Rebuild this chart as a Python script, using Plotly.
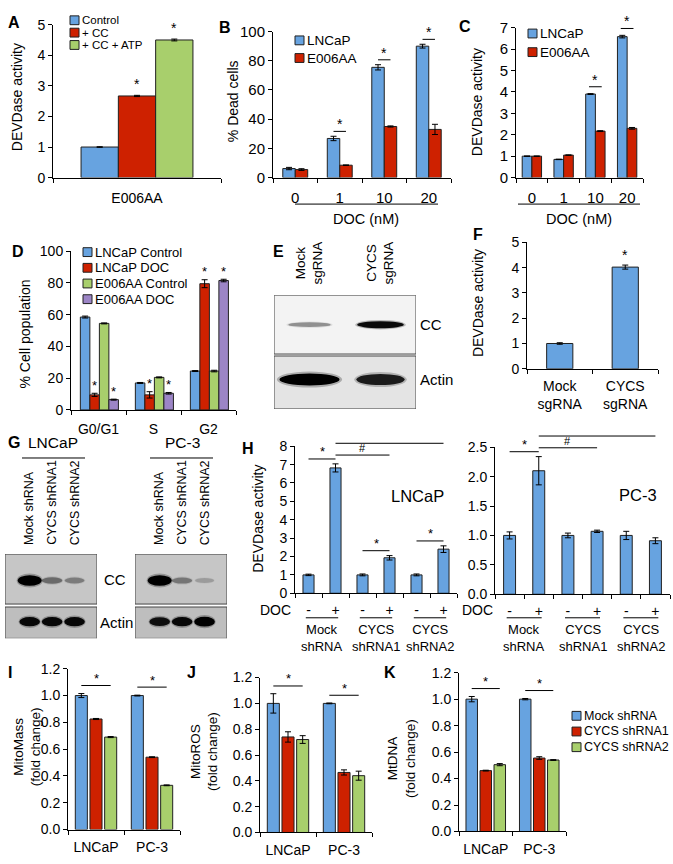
import plotly.graph_objects as go

# ---------------- data ----------------
a_category = ["E006AA"]
a_series = ["Control", "+ CC", "+ CC + ATP"]
a_values = [1.0, 2.67, 4.50]
a_errors = [0.01, 0.02, 0.03]
a_significant = [False, True, True]

dose_labels = ["0", "1", "10", "20"]
bc_series = ["LNCaP", "E006AA"]
b_lncap = [6.2, 26.8, 75.5, 90.0]
b_lncap_err = [0.8, 1.5, 1.8, 1.3]
b_e006aa = [5.5, 8.5, 35.0, 33.0]
b_e006aa_err = [0.6, 0.2, 0.4, 3.5]
b_significant = [False, True, True, True]

c_lncap = [1.0, 0.85, 3.90, 6.58]
c_lncap_err = [0.01, 0.01, 0.02, 0.06]
c_e006aa = [1.0, 1.05, 2.17, 2.30]
c_e006aa_err = [0.01, 0.01, 0.02, 0.04]
c_significant = [False, False, True, True]

d_phases = ["G0/G1", "S", "G2"]
d_series = ["LNCaP Control", "LNCaP DOC", "E006AA Control", "E006AA DOC"]
d_lncap_control = [58.5, 17.0, 24.5]
d_lncap_doc = [9.5, 9.5, 79.5]
d_e006aa_control = [54.5, 20.5, 24.5]
d_e006aa_doc = [6.5, 10.5, 81.5]
d_lncap_control_err = [0.6, 0.3, 0.3]
d_lncap_doc_err = [1.0, 2.0, 2.5]
d_e006aa_control_err = [0.3, 0.3, 0.5]
d_e006aa_doc_err = [0.3, 0.5, 0.8]
d_significant = [False, True, False, True]

e_lanes = ["Mock<br>sgRNA", "CYCS<br>sgRNA"]
e_cc_intensity = [0.35, 0.95]
e_actin_intensity = [1.0, 0.85]

f_categories = ["Mock<br>sgRNA", "CYCS<br>sgRNA"]
f_values = [1.0, 4.02]
f_errors = [0.03, 0.08]
f_significant = [False, True]

g_lanes = ["Mock shRNA", "CYCS shRNA1", "CYCS shRNA2"]
g_lncap_cc = [1.0, 0.40, 0.32]
g_lncap_actin = [0.95, 0.95, 0.95]
g_pc3_cc = [1.0, 0.35, 0.18]
g_pc3_actin = [0.9, 0.95, 1.0]

h_doc = ["-", "+", "-", "+", "-", "+"]
h_groups = ["Mock<br>shRNA", "CYCS<br>shRNA1", "CYCS<br>shRNA2"]
h_lncap = [1.0, 6.82, 1.0, 1.93, 1.0, 2.40]
h_lncap_err = [0.04, 0.22, 0.05, 0.12, 0.05, 0.18]
h_pc3 = [1.0, 2.10, 1.0, 1.07, 1.0, 0.91]
h_pc3_err = [0.06, 0.24, 0.04, 0.02, 0.07, 0.05]
h_lncap_star_pairs = [(0, 1), (2, 3), (4, 5)]
h_pc3_star_pairs = [(0, 1)]
h_hash_pairs = [(1, 3), (1, 5)]

cell_lines = ["LNCaP", "PC-3"]
shrna_series = ["Mock shRNA", "CYCS shRNA1", "CYCS shRNA2"]
i_mock = [1.0, 1.0]
i_sh1 = [0.825, 0.54]
i_sh2 = [0.69, 0.33]
i_mock_err = [0.015, 0.003]
i_sh1_err = [0.004, 0.003]
i_sh2_err = [0.004, 0.003]
j_mock = [1.0, 1.0]
j_sh1 = [0.74, 0.465]
j_sh2 = [0.72, 0.44]
j_mock_err = [0.075, 0.003]
j_sh1_err = [0.04, 0.02]
j_sh2_err = [0.03, 0.035]
k_mock = [1.0, 1.0]
k_sh1 = [0.46, 0.555]
k_sh2 = [0.505, 0.54]
k_mock_err = [0.02, 0.005]
k_sh1_err = [0.003, 0.01]
k_sh2_err = [0.008, 0.003]

# ---------------- style ----------------
W, H = 673, 864
FONT = "Arial, Liberation Sans, sans-serif"
BLACK = "#000000"
EDGE = "#202020"
BLUE = "#67A3E0"
RED = "#CE2100"
GREEN = "#A8CF6C"
PURPLE = "#9C85C6"


def fx(x):
    return x / W


def fy(y):
    return 1 - y / H


axes = {}
axinfo = {}
shapes = []
annotations = []
traces = []


def keys(n):
    s = "" if n == 1 else str(n)
    return "xaxis" + s, "yaxis" + s, "x" + s, "y" + s


def X(xr, v):
    x0, x1, lo, hi = axinfo[xr]
    return x0 + (v - lo) / (hi - lo) * (x1 - x0)


def Y(yr, v):
    ytop, ybot, lo, hi = axinfo[yr]
    return ybot - (v - lo) / (hi - lo) * (ybot - ytop)


def bar_axes(n, x0, x1, ytop, ybot, labels, ymax, dtick, fmt=None, tickfs=14, standoff=5):
    xk, yk, xr, yr = keys(n)
    ncat = len(labels)
    axinfo[xr] = (x0, x1, -0.5, ncat - 0.5)
    axinfo[yr] = (ytop, ybot, 0, ymax)
    axes[xk] = dict(domain=[fx(x0), fx(x1)], range=[-0.5, ncat - 0.5], anchor=yr,
                    showline=True, linecolor=BLACK, linewidth=1, showgrid=False, zeroline=False,
                    tickmode="array", tickvals=list(range(ncat)), ticktext=labels, ticks="",
                    tickfont=dict(family=FONT, size=tickfs, color=BLACK), ticklabelstandoff=standoff,
                    minor=dict(tickmode="array", tickvals=[i - 0.5 for i in range(ncat + 1)],
                               ticks="outside", ticklen=4, tickcolor=BLACK, tickwidth=1, showgrid=False),
                    fixedrange=True)
    ya = dict(domain=[fy(ybot), fy(ytop)], range=[0, ymax], anchor=xr,
              showline=True, linecolor=BLACK, linewidth=1, showgrid=False, zeroline=False,
              ticks="outside", ticklen=4, tickcolor=BLACK, tickmode="linear", tick0=0, dtick=dtick,
              tickfont=dict(family=FONT, size=tickfs, color=BLACK), fixedrange=True)
    if fmt:
        ya["tickformat"] = fmt
    axes[yk] = ya
    return xr, yr, ymax / (ybot - ytop)  # data units per pixel


def blot_axes(n, x0, x1, ytop, ybot, xrange):
    xk, yk, xr, yr = keys(n)
    axinfo[xr] = (x0, x1, xrange[0], xrange[1])
    axinfo[yr] = (ytop, ybot, 0, 1)
    axes[xk] = dict(domain=[fx(x0), fx(x1)], range=xrange, anchor=yr, visible=False, fixedrange=True)
    axes[yk] = dict(domain=[fy(ybot), fy(ytop)], range=[0, 1], anchor=xr, visible=False, fixedrange=True)
    return xr, yr


def add_bar(xr, yr, ys, errs, color, width, offset, name):
    traces.append(go.Bar(x=list(range(len(ys))), y=ys, xaxis=xr, yaxis=yr, name=name,
                         width=width, offset=offset,
                         marker=dict(color=color, line=dict(color=EDGE, width=1)),
                         error_y=dict(type="data", array=errs, visible=True, color=BLACK,
                                      thickness=1, width=3),
                         showlegend=False, hoverinfo="skip"))


def text(x, y, s, fs=14, angle=0, xanchor="center", yanchor="middle", bold=False, xref="paper", yref="paper"):
    annotations.append(dict(xref=xref, yref=yref,
                            x=fx(x) if xref == "paper" else x,
                            y=fy(y) if yref == "paper" else y,
                            text=("<b>%s</b>" % s) if bold else s, textangle=angle,
                            showarrow=False, xanchor=xanchor, yanchor=yanchor, borderpad=0,
                            font=dict(family=FONT, size=fs, color=BLACK)))


def hline_px(xa, xb, y):
    shapes.append(dict(type="line", xref="paper", yref="paper", x0=fx(xa), x1=fx(xb),
                       y0=fy(y), y1=fy(y), line=dict(color=BLACK, width=1)))


def sig(xr, yr, xa, xb, y, symbol="*", shift=7, fs=13):
    if xa != xb:
        hline_px(X(xr, xa), X(xr, xb), Y(yr, y))
    annotations.append(dict(xref=xr, yref=yr, x=(xa + xb) / 2, y=y, text=symbol, showarrow=False,
                            yanchor="middle", yshift=shift,
                            font=dict(family=FONT, size=fs, color=BLACK)))


def legend(x, y0, step, names, colors, fs=13):
    for k, (name, col) in enumerate(zip(names, colors)):
        yy = y0 + k * step
        shapes.append(dict(type="rect", xref="paper", yref="paper", x0=fx(x), x1=fx(x + 9),
                           y0=fy(yy + 4.5), y1=fy(yy - 4.5), fillcolor=col,
                           line=dict(color=EDGE, width=1)))
        text(x + 11, yy, name, fs=fs, xanchor="left")


def band(xr, yr, xc, yc, hw, hh, v):
    shapes.append(dict(type="circle", xref=xr, yref=yr, x0=xc - hw, x1=xc + hw,
                       y0=yc - hh * 1.35, y1=yc + hh * 1.35,
                       fillcolor="rgba(0,0,0,%.2f)" % (0.25 * v), line=dict(width=0)))
    shapes.append(dict(type="circle", xref=xr, yref=yr, x0=xc - hw * 0.92, x1=xc + hw * 0.92,
                       y0=yc - hh, y1=yc + hh,
                       fillcolor="rgba(0,0,0,%.2f)" % v, line=dict(width=0)))


def box(xr, yr, x0, x1, y0, y1, fill):
    shapes.append(dict(type="rect", xref=xr, yref=yr, x0=x0, x1=x1, y0=y0, y1=y1,
                       fillcolor=fill, line=dict(color="#444444", width=1), layer="below"))


# ---------------- A ----------------
xr, yr, upp = bar_axes(1, 53, 221, 16, 172, a_category, 5, 1, standoff=8)
a_colors = [BLUE, RED, GREEN]
aw = 0.222
for k in range(3):
    off = -0.333 + k * aw
    add_bar(xr, yr, [a_values[k]], [a_errors[k]], a_colors[k], aw, off, a_series[k])
    if a_significant[k]:
        sig(xr, yr, off + aw / 2, off + aw / 2, a_values[k] + a_errors[k], shift=11, fs=14)
legend(70, 11.5, 12.6, a_series, a_colors, fs=11.5)
text(17, 90, "DEVDase activity", 14, angle=-90)
text(14, 14, "A", 16, bold=True)

# ---------------- B ----------------
xr, yr, upp = bar_axes(2, 273, 451, 23, 172, dose_labels, 100, 20, tickfs=15, standoff=6)
bw = 0.28
add_bar(xr, yr, b_lncap, b_lncap_err, BLUE, bw, -bw, "LNCaP")
add_bar(xr, yr, b_e006aa, b_e006aa_err, RED, bw, 0, "E006AA")
for i, s in enumerate(b_significant):
    if s:
        top = max(b_lncap[i] + b_lncap_err[i], b_e006aa[i] + b_e006aa_err[i])
        sig(xr, yr, i - 0.14, i + 0.14, top + 5 * upp, shift=7, fs=14)
legend(295, 32, 18, bc_series, [BLUE, RED], fs=13.5)
hline_px(295, 438, 199)
text(366, 214, "DOC (nM)", 14.5)
text(233, 94, "% Dead cells", 14, angle=-90)
text(225, 19, "B", 16, bold=True)

# ---------------- C ----------------
xr, yr, upp = bar_axes(3, 516, 643, 19, 172, dose_labels, 7, 1, tickfs=15, standoff=6)
cw = 0.305
add_bar(xr, yr, c_lncap, c_lncap_err, BLUE, cw, -cw, "LNCaP")
add_bar(xr, yr, c_e006aa, c_e006aa_err, RED, cw, 0, "E006AA")
for i, s in enumerate(c_significant):
    if s:
        top = max(c_lncap[i] + c_lncap_err[i], c_e006aa[i] + c_e006aa_err[i])
        sig(xr, yr, i - 0.2, i + 0.2, top + 7 * upp, shift=7, fs=14)
legend(528, 25, 19, bc_series, [BLUE, RED], fs=13.5)
hline_px(518, 640, 199)
text(579, 214, "DOC (nM)", 14.5)
text(477, 95, "DEVDase activity", 14, angle=-90)
text(465, 18, "C", 16, bold=True)

# ---------------- D ----------------
xr, yr, upp = bar_axes(4, 71, 236, 247, 409, d_phases, 100, 20, tickfs=14, standoff=6)
d_vals = [d_lncap_control, d_lncap_doc, d_e006aa_control, d_e006aa_doc]
d_errs = [d_lncap_control_err, d_lncap_doc_err, d_e006aa_control_err, d_e006aa_doc_err]
d_colors = [BLUE, RED, GREEN, PURPLE]
dw = 0.173
for k in range(4):
    off = -0.33 + k * dw
    add_bar(xr, yr, d_vals[k], d_errs[k], d_colors[k], dw, off, d_series[k])
    if d_significant[k]:
        for i in range(3):
            sig(xr, yr, i + off + dw / 2, i + off + dw / 2, d_vals[k][i] + d_errs[k][i], shift=8, fs=13)
legend(83, 248, 16, d_series, d_colors, fs=13)
text(25, 332, "% Cell population", 14, angle=-90)
text(18, 247, "D", 16, bold=True)

# ---------------- E (blot) ----------------
xr, yr = blot_axes(5, 274, 416, 292, 408, [0, 2])
box(xr, yr, 0, 2, 0.483, 1, "#F3F3F3")
box(xr, yr, 0, 2, 0, 0.466, "#E4E4E4")
for i in range(2):
    v = e_cc_intensity[i]
    band(xr, yr, i + 0.5, 0.741, 0.36 * (0.85 + 0.15 * v), 0.032 * (0.45 + 0.55 * v), v)
    v = e_actin_intensity[i]
    band(xr, yr, i + 0.5, 0.259, 0.46 * (0.2 + 0.8 * v) if i == 0 else 0.37, 0.052 * (0.6 + 0.4 * v), v)
    text(i + 0.5, 282, e_lanes[i], 13.5, angle=-90, yanchor="bottom", xref=xr)
text(419, 322, "CC", 15, xanchor="left")
text(419, 378, "Actin", 15, xanchor="left")
text(278, 247, "E", 16, bold=True)

# ---------------- F ----------------
xr, yr, upp = bar_axes(6, 527, 658, 238, 367, f_categories, 5, 1, tickfs=14, standoff=4)
add_bar(xr, yr, f_values, f_errors, BLUE, 0.4, -0.2, "DEVDase")
for i, s in enumerate(f_significant):
    if s:
        sig(xr, yr, i, i, f_values[i] + f_errors[i], shift=10, fs=14)
text(478, 300, "DEVDase activity", 14, angle=-90)
text(478, 230, "F", 16, bold=True)

# ---------------- G (blots) ----------------
for n, cc, act, x0, x1 in [(7, g_lncap_cc, g_lncap_actin, 5, 97), (8, g_pc3_cc, g_pc3_actin, 135, 227)]:
    xr, yr = blot_axes(n, x0, x1, 556, 642, [-1.1, 3.0])
    box(xr, yr, -1.1, 3.0, 0.407, 1, "#C6C6C6")
    box(xr, yr, -1.1, 3.0, 0, 0.372, "#BEBEBE")
    for i in range(3):
        v = cc[i]
        band(xr, yr, i, 0.686, 0.58 * (0.75 + 0.25 * v), 0.062 * (0.35 + 0.65 * v), v)
        v = act[i]
        band(xr, yr, i, 0.198, 0.5, 0.058 * v, v)
        text(i, 548, g_lanes[i], 12.5, angle=-90, yanchor="bottom", xref=xr)
text(53, 442, "LNCaP", 15.5)
hline_px(22, 85, 458)
text(182, 442, "PC-3", 15.5)
hline_px(150, 213, 458)
text(115, 582, "CC", 15)
text(116, 626, "Actin", 15)
text(14, 442, "G", 16, bold=True)

# ---------------- H ----------------
for n, vals, errs, stars, x0, x1, ytop, ybot, ymax, dt, fmt, label, lab_pos, docx in [
        (9, h_lncap, h_lncap_err, h_lncap_star_pairs, 295, 457, 446, 596, 8, 1, None, "LNCaP", (4.02, 5.28), 275),
        (10, h_pc3, h_pc3_err, h_pc3_star_pairs, 495, 670, 447, 597, 2.5, 0.5, ".1f", "PC-3", (4.4, 1.68), 477)]:
    xr, yr, upp = bar_axes(n, x0, x1, ytop, ybot, h_doc, ymax, dt, fmt=fmt, tickfs=14, standoff=4)
    add_bar(xr, yr, vals, errs, BLUE, 0.41, -0.205, "DEVDase")
    tops = [v + e for v, e in zip(vals, errs)]
    for a, b in stars:
        sig(xr, yr, a, b, max(tops[a:b + 1]) + 5 * upp, shift=7, fs=13)
    level = max(tops[1:4]) + 9 * upp
    for a, b in h_hash_pairs:
        sig(xr, yr, a, b, level, symbol="#", shift=7, fs=11)
        level += 12 * upp
    for p in range(3):
        hline_px(X(xr, 2 * p + 0.5 - 0.6), X(xr, 2 * p + 0.5 + 0.6), 621)
        text(2 * p + 0.5, 642, h_groups[p], 13, xref=xr)
    text(lab_pos[0], lab_pos[1], label, 16.5, xref=xr, yref=yr)
    text(docx, 613, "DOC", 14)
text(258, 520, "DEVDase activity", 14, angle=-90)
text(248, 448, "H", 16, bold=True)

# ---------------- I, J, K ----------------
ijk_colors = [BLUE, RED, GREEN]
for n, vals, errs, x0, x1, ytop, ybot, title, tx, ty, letter, lx in [
        (11, [i_mock, i_sh1, i_sh2], [i_mock_err, i_sh1_err, i_sh2_err], 68, 180, 673, 837,
         "MitoMass<br>(fold change)", 27, 753, "I", 10),
        (12, [j_mock, j_sh1, j_sh2], [j_mock_err, j_sh1_err, j_sh2_err], 260, 372, 682, 840,
         "MitoROS<br>(fold change)", 204, 757, "J", 191),
        (13, [k_mock, k_sh1, k_sh2], [k_mock_err, k_sh1_err, k_sh2_err], 459, 566, 677, 839,
         "MtDNA<br>(fold change)", 402, 765, "K", 390)]:
    xr, yr, upp = bar_axes(n, x0, x1, ytop, ybot, cell_lines, 1.2, 0.2, fmt=".1f", tickfs=14, standoff=5)
    w = 0.215
    sp = 0.262
    for k in range(3):
        add_bar(xr, yr, vals[k], errs[k], ijk_colors[k], w, (k - 1) * sp - w / 2, shrna_series[k])
    for i in range(2):
        top = max(vals[k][i] + errs[k][i] for k in range(3))
        sig(xr, yr, i - sp, i + sp, top + 0.06, shift=7, fs=13)
    text(tx, ty, title, 13.5, angle=-90)
    text(lx, 677, letter, 16, bold=True)
legend(572, 721, 16, shrna_series, ijk_colors, fs=12.5)

fig = go.Figure(data=traces)
fig.update_layout(width=W, height=H, autosize=False, margin=dict(l=0, r=0, t=0, b=0),
                  paper_bgcolor="white", plot_bgcolor="white", barmode="overlay",
                  showlegend=False, font=dict(family=FONT, color=BLACK),
                  shapes=shapes, annotations=annotations, **axes)
fig.write_html("out.html", config={"displayModeBar": False, "staticPlot": True},
               post_script="document.body.style.margin='0px';document.body.style.padding='0px';")
